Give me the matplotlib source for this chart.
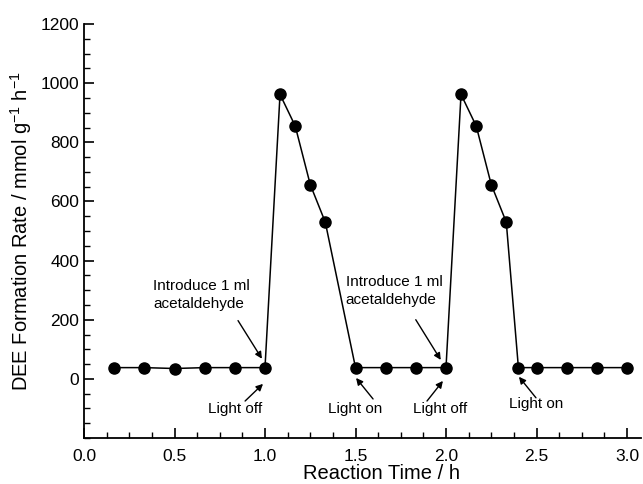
import matplotlib
matplotlib.use("Agg")
import matplotlib.pyplot as plt
from matplotlib.ticker import MultipleLocator

plt.rcParams['font.family'] = ['Liberation Sans', 'DejaVu Sans']

time_h = [0.167, 0.333, 0.5, 0.667, 0.833, 1.0,
          1.083, 1.167, 1.25, 1.333,
          1.5, 1.667, 1.833, 2.0,
          2.083, 2.167, 2.25, 2.333,
          2.4, 2.5, 2.667, 2.833, 3.0]
rate = [38, 38, 35, 38, 38, 38,
        962, 855, 657, 530,
        38, 38, 38, 38,
        962, 855, 657, 530,
        38, 38, 38, 38, 38]

intro_label = "Introduce 1 ml\nacetaldehyde"
light_labels = ["Light off", "Light on", "Light off", "Light on"]

fig = plt.figure(figsize=(6.43, 4.84), dpi=100)
ax = fig.add_axes([84/643, 46/484, (3.08*181)/643, 414/484])

ax.plot(time_h, rate, color='black', lw=1.1, marker='o', markersize=8,
        markerfacecolor='black', markeredgecolor='black')

ax.set_xlim(0, 3.08)
ax.set_ylim(-200, 1200)
ax.xaxis.set_major_locator(MultipleLocator(0.5))
ax.xaxis.set_minor_locator(MultipleLocator(0.125))
ax.yaxis.set_major_locator(MultipleLocator(200))
ax.yaxis.set_minor_locator(MultipleLocator(50))
ax.set_xticks([0, 0.5, 1.0, 1.5, 2.0, 2.5, 3.0])
ax.set_xticklabels(['0.0', '0.5', '1.0', '1.5', '2.0', '2.5', '3.0'])
ax.set_yticks([0, 200, 400, 600, 800, 1000, 1200])
ax.spines['top'].set_visible(False)
ax.spines['right'].set_visible(False)
for s in ('left', 'bottom'):
    ax.spines[s].set_linewidth(1.3)
ax.tick_params(which='major', direction='in', length=7, width=1.2, labelsize=12.5)
ax.tick_params(which='minor', direction='in', length=4, width=1.0)
ax.tick_params(axis='x', pad=8)

ax.set_xlabel('Reaction Time / h', fontsize=14.5, va='baseline')
ax.xaxis.set_label_coords(0.533, -0.1)
ax.set_ylabel('DEE Formation Rate / mmol g$^{\\mathregular{-1}}$ h$^{\\mathregular{-1}}$', fontsize=14.5, labelpad=5)

ap = dict(arrowstyle='-|>', color='black', lw=1.0, mutation_scale=10, shrinkA=0, shrinkB=0)

ax.text(0.381, 285, intro_label, ha='left', va='center', fontsize=11, linespacing=1.35)
ax.annotate('', xy=(0.983, 68), xytext=(0.851, 197), arrowprops=ap)
ax.text(1.446, 296, intro_label, ha='left', va='center', fontsize=11, linespacing=1.35)
ax.annotate('', xy=(1.971, 64), xytext=(1.833, 200), arrowprops=ap)

light_pos = [(0.834, -102), (1.497, -102), (1.967, -102), (2.497, -85)]
arrow_from = [(0.89, -75), (1.597, -68), (1.895, -75), (2.497, -64)]
arrow_to = [(0.989, -17), (1.503, 3), (1.983, -7), (2.403, 7)]
for lab, p, a, b in zip(light_labels, light_pos, arrow_from, arrow_to):
    ax.text(p[0], p[1], lab, ha='center', va='center', fontsize=11)
    ax.annotate('', xy=b, xytext=a, arrowprops=ap)

fig.savefig('out.png', dpi=100)
